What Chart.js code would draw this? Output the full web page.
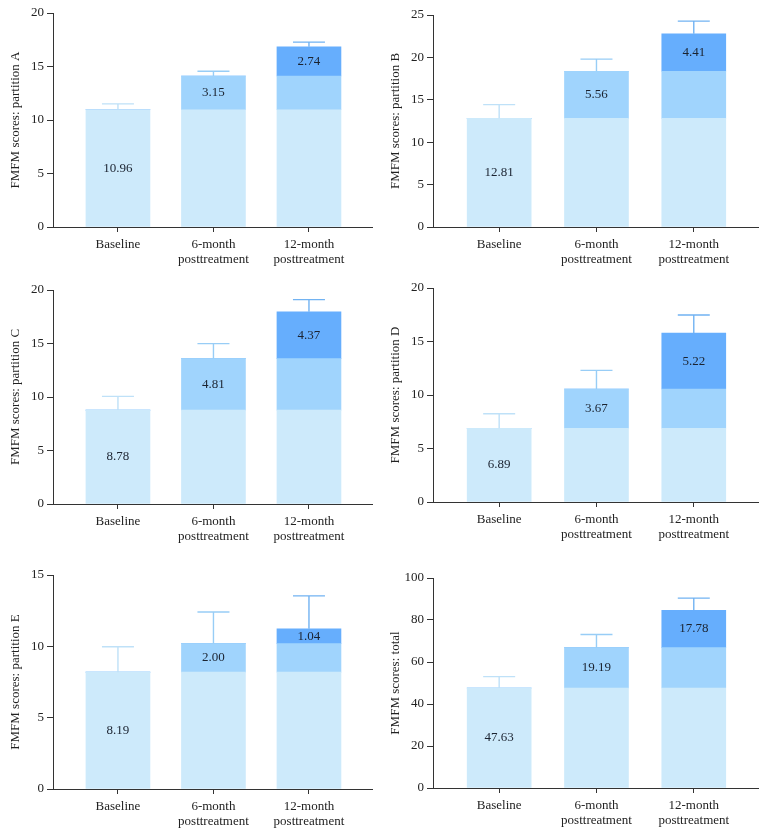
<!DOCTYPE html>
<html>
<head>
<meta charset="utf-8">
<script src="https://cdn.jsdelivr.net/npm/chart.js@4/dist/chart.umd.min.js"></script>
<style>
  body { margin: 0; background: #fff; }
  #wrap { position: relative; width: 767px; height: 834px; }
  #wrap canvas { position: absolute; }
</style>
</head>
<body>
<div id="wrap"></div>
<script>
"use strict";

// ── Data ─────────────────────────────────────────────────────────────────────

const categories = [["Baseline"], ["6-month", "posttreatment"], ["12-month", "posttreatment"]];
const panelTitles = [
  "FMFM scores: partition A", "FMFM scores: partition B",
  "FMFM scores: partition C", "FMFM scores: partition D",
  "FMFM scores: partition E", "FMFM scores: total",
];
const baselineMeans = [10.96, 12.81, 8.78, 6.89, 8.19, 47.63];
const gain6Month    = [3.15, 5.56, 4.81, 3.67, 2.00, 19.19];
const gain12Month   = [2.74, 4.41, 4.37, 5.22, 1.04, 17.78];
const errBaseline   = [0.55, 1.62, 1.28, 1.36, 1.78, 5.4];
const err6Month     = [0.44, 1.43, 1.40, 1.74, 2.22, 6.3];
const err12Month    = [0.43, 1.50, 1.14, 1.69, 2.31, 5.8];
const yMax  = [20, 25, 20, 20, 15, 100];
const yStep = [5, 5, 5, 5, 5, 20];

// ── Styles ───────────────────────────────────────────────────────────────────

const SEGMENT_COLORS = ["#cdeafb", "#a0d4fd", "#66aefd"];
const ERROR_COLORS   = ["#bfe1f8", "#98cdf6", "#72b3f2"];
const FONT = "'Liberation Serif', 'DejaVu Serif', serif";
const INK = "#222";

// panel boxes: [left, top, width, height, plotTop, zeroY, rightPad]
const PANELS = [
  [0, 0, 382, 275, 13, 227, 10], [380, 0, 387, 275, 15, 227, 9],
  [0, 275, 382, 285, 15, 229, 10], [380, 275, 387, 285, 13, 227, 9],
  [0, 560, 382, 274, 15, 229, 10], [380, 560, 387, 274, 18, 228, 9],
];

// ── Plugins ──────────────────────────────────────────────────────────────────

const errorBars = {
  id: "errorBars",
  afterDatasetsDraw(chart, args, opts) {
    const ctx = chart.ctx;
    const y = chart.scales.y;
    const metas = chart.getSortedVisibleDatasetMetas();
    opts.errors.forEach((err, i) => {
      let top = null, color = null, total = 0;
      metas.forEach(meta => {
        const v = chart.data.datasets[meta.index].data[i].y;
        if (v > 0) { top = meta.data[i]; color = ERROR_COLORS[meta.index]; total += v; }
      });
      if (!top) return;
      const yErr = y.getPixelForValue(total + err);
      const half = top.width / 4;
      ctx.save();
      ctx.strokeStyle = color;
      ctx.lineWidth = 1.4;
      ctx.beginPath();
      ctx.moveTo(top.x, top.y);
      ctx.lineTo(top.x, yErr);
      ctx.moveTo(top.x - half, yErr);
      ctx.lineTo(top.x + half, yErr);
      ctx.stroke();
      ctx.restore();
    });
  },
};

const segmentLabels = {
  id: "segmentLabels",
  afterDatasetsDraw(chart) {
    const ctx = chart.ctx;
    ctx.save();
    ctx.font = `13px ${FONT}`;
    ctx.fillStyle = "#1b2330";
    ctx.textAlign = "center";
    ctx.textBaseline = "middle";
    chart.data.datasets.forEach((ds, d) => {
      const el = chart.getDatasetMeta(d).data[d];
      ctx.fillText(ds.data[d].y.toFixed(2), el.x, (el.y + el.base) / 2);
    });
    ctx.restore();
  },
};

// ── Charts ───────────────────────────────────────────────────────────────────

function buildPanel(p) {
  const [left, top, w, h, plotTop, zeroY, rightPad] = PANELS[p];
  const canvas = document.createElement("canvas");
  canvas.width = w;
  canvas.height = h;
  canvas.style.left = left + "px";
  canvas.style.top = top + "px";
  document.getElementById("wrap").appendChild(canvas);

  const series = [
    categories.map(() => baselineMeans[p]),
    categories.map((c, i) => (i >= 1 ? gain6Month[p] : 0)),
    categories.map((c, i) => (i >= 2 ? gain12Month[p] : 0)),
  ];

  new Chart(canvas, {
    type: "bar",
    data: {
      datasets: series.map((vals, d) => ({
        data: vals.map((v, i) => ({ x: i, y: v })),
        backgroundColor: SEGMENT_COLORS[d],
        borderWidth: 0,
        barThickness: 64,
      })),
    },
    options: {
      responsive: false,
      animation: false,
      layout: { padding: { top: plotTop, right: rightPad, left: 0, bottom: 0 } },
      plugins: {
        legend: { display: false },
        tooltip: { enabled: false },
        errorBars: { errors: [errBaseline[p], err6Month[p], err12Month[p]] },
      },
      scales: {
        x: {
          type: "linear",
          stacked: true,
          offset: false,
          min: -0.68,
          max: 2.66,
          afterBuildTicks: s => { s.ticks = categories.map((c, i) => ({ value: i })); },
          afterFit: s => { s.height = h - zeroY; },
          ticks: {
            callback: v => categories[v],
            color: INK,
            font: { family: FONT, size: 13, lineHeight: 1.15 },
            padding: 5,
            maxRotation: 0,
          },
          grid: { offset: false, drawOnChartArea: false, tickLength: 5, color: "#333" },
          border: { color: "#333", width: 1 },
        },
        y: {
          stacked: true,
          min: 0,
          max: yMax[p],
          afterFit: s => { s.width = 53; },
          ticks: {
            stepSize: yStep[p],
            color: INK,
            font: { family: FONT, size: 13 },
            padding: 3,
          },
          grid: { drawOnChartArea: false, tickLength: 6, color: "#333" },
          border: { color: "#333", width: 1 },
          title: {
            display: true,
            text: panelTitles[p],
            color: INK,
            font: { family: FONT, size: 13 },
            padding: { top: 8, bottom: 0 },
          },
        },
      },
    },
    plugins: [errorBars, segmentLabels],
  });
}

PANELS.forEach((_, p) => buildPanel(p));
</script>
</body>
</html>
